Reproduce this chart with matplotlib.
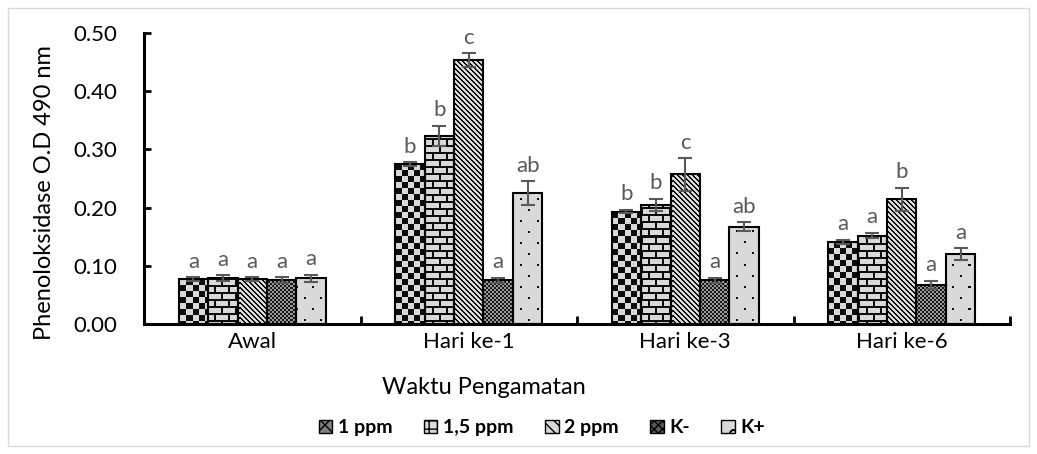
# Phenoloksidase activity per sampling time, bar chart with textured fills
import numpy as np
import matplotlib
matplotlib.use("Agg")
import matplotlib.pyplot as plt
from matplotlib.patches import Patch, Rectangle

plt.rcParams['font.family'] = ['Lato', 'DejaVu Sans']

# data
categories = ['Awal', 'Hari ke-1', 'Hari ke-3', 'Hari ke-6']
series = ['1 ppm', '1,5 ppm', '2 ppm', 'K-', 'K+']
ppm1 = [0.077, 0.275, 0.193, 0.141]
ppm15 = [0.079, 0.323, 0.205, 0.152]
ppm2 = [0.077, 0.453, 0.257, 0.214]
kmin = [0.075, 0.075, 0.075, 0.067]
kplus = [0.079, 0.225, 0.167, 0.120]
err1 = [0.003, 0.003, 0.003, 0.004]
err15 = [0.005, 0.018, 0.010, 0.005]
err2 = [0.003, 0.012, 0.028, 0.020]
errkmin = [0.005, 0.004, 0.004, 0.007]
errkplus = [0.006, 0.020, 0.008, 0.010]
letters1 = ['a', 'b', 'b', 'a']
letters15 = ['a', 'b', 'b', 'a']
letters2 = ['a', 'c', 'c', 'b']
letterskmin = ['a', 'a', 'a', 'a']
letterskplus = ['a', 'ab', 'ab', 'a']

values = [ppm1, ppm15, ppm2, kmin, kplus]
errors = [err1, err15, err2, errkmin, errkplus]
letters = [letters1, letters15, letters2, letterskmin, letterskplus]

W_PX, H_PX = 1037, 454
fig = plt.figure(figsize=(W_PX / 100, H_PX / 100), dpi=100)
left, right, bottom, top = 144 / W_PX, 1010 / W_PX, 1 - 324 / H_PX, 1 - 33 / H_PX
ax = fig.add_axes([left, bottom, right - left, top - bottom])

# textures, one pixel per screen pixel over the whole axes
aw = int(round((right - left) * W_PX))
ah = int(round((top - bottom) * H_PX))
yy, xx = np.mgrid[0:ah, 0:aw]
LG, DK = 0.85, 0.05


def tex_checker():
    return np.where(((xx // 6) + (yy // 6)) % 2 == 0, DK, LG)


def tex_brick():
    course = yy // 7
    horiz = (yy % 7) < 2
    vert = ((xx + (course % 2) * 7) % 14) < 2
    return np.where(horiz | vert, DK, LG)


def tex_diag():
    return np.where(((xx - yy) % 5) < 2, DK, LG)


def tex_fine():
    return np.where(((xx // 2) + (yy // 2)) % 2 == 0, 0.1, 0.6)


def tex_dots():
    a = ((xx % 16) < 2) & ((yy % 22) < 2)
    b = (((xx + 8) % 16) < 2) & (((yy + 11) % 22) < 2)
    return np.where(a | b, DK, LG)


textures = [tex_checker(), tex_brick(), tex_diag(), tex_fine(), tex_dots()]
legend_hatch = ['xx', '++', '\\\\\\', 'xxxx', 'o']
legend_fc = ['#7f7f7f', '#d9d9d9', '#d9d9d9', '#595959', '#d9d9d9']

x = np.arange(len(categories))
bw = 0.136
for i in range(len(series)):
    pos = x + (i - 2) * bw
    bars = ax.bar(pos, values[i], bw, facecolor='none', edgecolor='black',
                  linewidth=1.5, zorder=3)
    for b in bars:
        im = ax.imshow(textures[i], cmap='gray', vmin=0, vmax=1,
                       extent=[0, 1, 0, 1], transform=ax.transAxes,
                       interpolation='nearest', aspect='auto', zorder=2)
        im.set_clip_path(b)
    ax.errorbar(pos, values[i], yerr=errors[i], fmt='none', ecolor='#595959',
                elinewidth=1.5, capsize=5, capthick=1.5, zorder=4)
    for xp, v, e, t in zip(pos, values[i], errors[i], letters[i]):
        ax.annotate(t, xy=(xp, v + e), xytext=(0, 4), textcoords='offset points',
                    ha='center', va='bottom', fontsize=16, color='#595959')

ax.set_xlim(-0.5, len(categories) - 0.5)
ax.set_ylim(0, 0.5)
ax.set_yticks(np.arange(0, 0.51, 0.1))
ax.set_yticklabels(['%.2f' % t for t in np.arange(0, 0.51, 0.1)])
ax.set_xticks(np.arange(-0.5, len(categories), 1.0))
ax.set_xticklabels([])
ax.set_xticks(x, categories, minor=True)

for s in ['top', 'right']:
    ax.spines[s].set_visible(False)
for s in ['left', 'bottom']:
    ax.spines[s].set_linewidth(2.2)
ax.tick_params(axis='y', direction='in', length=5, width=2, labelsize=16, pad=19)
ax.tick_params(axis='x', which='major', direction='in', length=6, width=2)
ax.tick_params(axis='x', which='minor', length=0, labelsize=16, pad=6)

ax.set_ylabel('Phenoloksidase O.D 490 nm', fontsize=17)
ax.yaxis.set_label_coords(-0.103, 0.45)
ax.set_xlabel('Waktu Pengamatan', fontsize=17)
ax.xaxis.set_label_coords(0.3926, -0.183)

handles = [Patch(facecolor=legend_fc[i], edgecolor='black', hatch=legend_hatch[i],
                 linewidth=1, label=series[i]) for i in range(len(series))]
fig.legend(handles=handles, loc='center', bbox_to_anchor=(0.5227, 0.0573), ncol=5,
           frameon=False, prop={'weight': 'bold', 'size': 14}, handlelength=0.7,
           handleheight=0.7, handletextpad=0.3, columnspacing=1.6)

# chart area border
fig.patches.append(Rectangle((8 / W_PX, 8 / H_PX), 1 - 16 / W_PX, 1 - 16 / H_PX,
                             transform=fig.transFigure, fill=False,
                             edgecolor='#d9d9d9', linewidth=1))

fig.savefig('out.png', dpi=100)
